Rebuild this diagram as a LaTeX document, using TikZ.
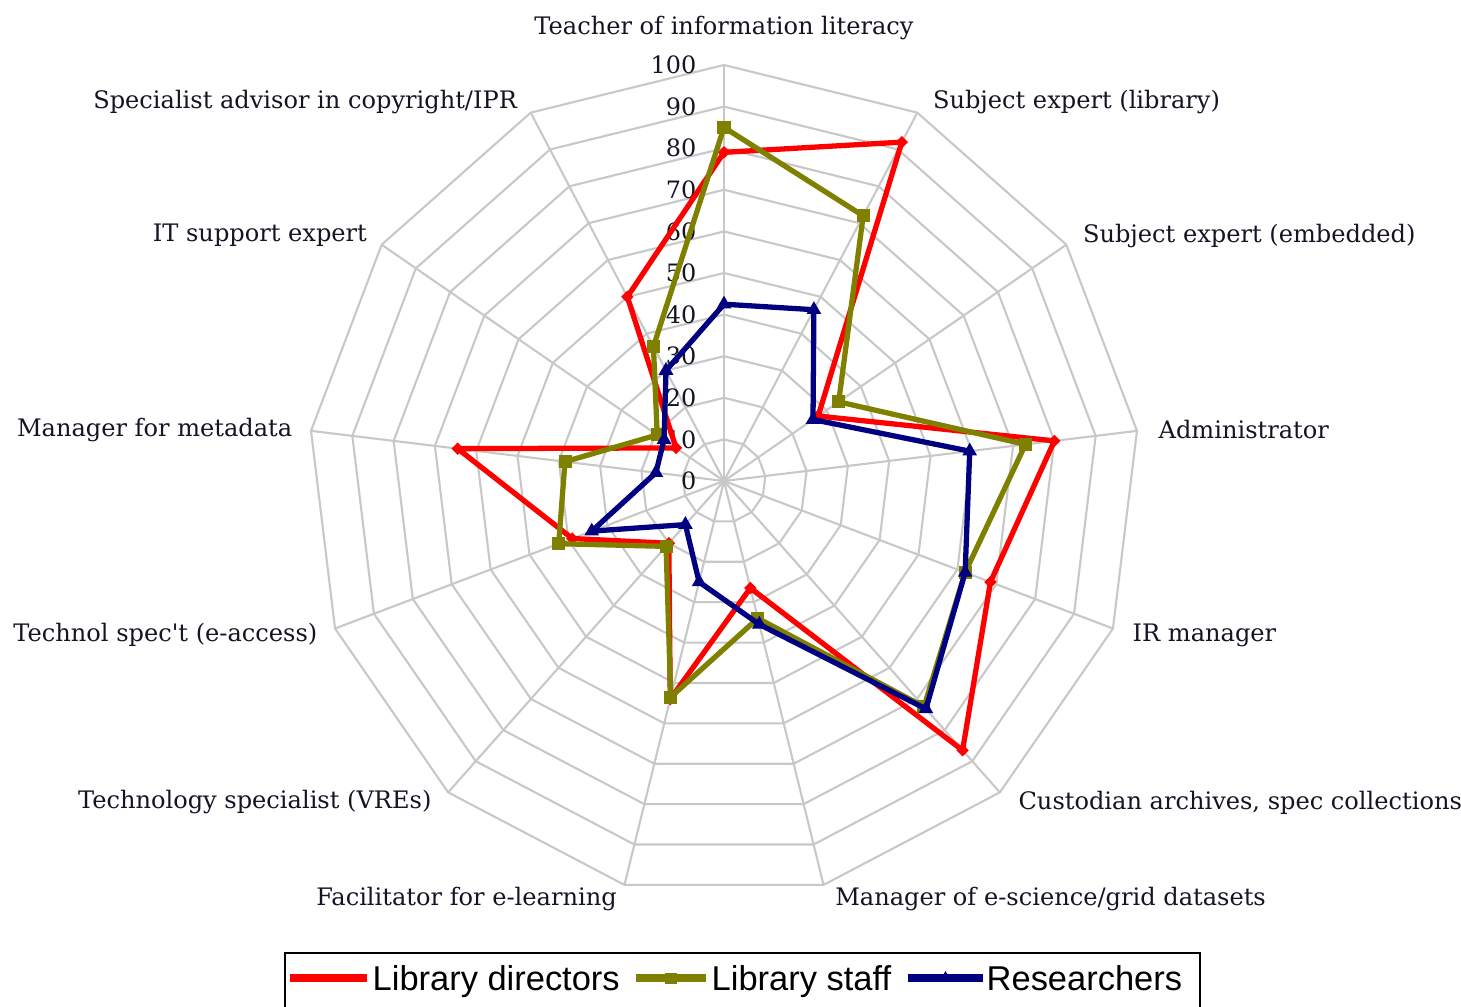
\documentclass[tikz,border=0pt]{standalone}
\usepackage{fontspec}
\setmainfont{DejaVu Serif}
\newfontfamily\legendfont{Liberation Sans}
\usepackage{tikz}
\usetikzlibrary{positioning,shapes.geometric}

\definecolor{dirred}{RGB}{255,0,0}
\definecolor{staffolive}{RGB}{128,128,0}
\definecolor{resnavy}{RGB}{0,0,128}
\definecolor{webgray}{RGB}{200,200,200}
\definecolor{labelink}{RGB}{20,20,35}

\newcommand{\radarpt}[3]{\coordinate (#1) at ({90-(#2)*360/13}:{4.16*(#3)});}

\tikzset{
  web/.style={webgray,line width=0.6pt},
  axislabel/.style={font=\fontsize{6.85}{8.5}\selectfont,text=labelink,inner sep=0pt},
  scalelabel/.style={font=\fontsize{6.8}{8}\selectfont,text=labelink,inner sep=0pt,anchor=east},
  dirline/.style={dirred,line width=1.5pt,line join=round},
  staffline/.style={staffolive,line width=1.5pt,line join=round},
  resline/.style={resnavy,line width=1.5pt,line join=round},
  dirmark/.style={diamond,fill=dirred,inner sep=0pt,minimum size=0.13cm},
  staffmark/.style={rectangle,fill=staffolive,inner sep=0pt,minimum size=0.13cm},
  resmark/.style={regular polygon,regular polygon sides=3,fill=resnavy,inner sep=0pt,minimum size=0.17cm},
  legline/.style={line width=2pt},
  legmark/.style={minimum size=0.11cm},
  legtext/.style={font=\legendfont\fontsize{9.8}{11}\selectfont,text=black,inner sep=0pt,anchor=base west}
}

\begin{document}
\begin{tikzpicture}[x=0.01cm,y=0.01cm]
  \useasboundingbox (-724,-525) rectangle (737,481);
  \coordinate (ctr) at (0,0);

  \foreach \k in {0,...,12}
    \coordinate (rim\k) at ({90-\k*360/13}:416);
  \foreach \k in {0,...,12}
    \draw[web] (ctr) -- (rim\k);
  \foreach \v in {1,...,10}
    \draw[web] (90:{41.6*\v}) \foreach \k in {1,...,12} { -- ({90-\k*360/13}:{41.6*\v}) } -- cycle;

  \foreach \v in {0,10,...,100}
    \node[scalelabel] (sc\v) at (-27,{4.16*\v}) {\v};

  \node[axislabel, above=0.24cm of rim0] (lab0) {Teacher of information literacy};
  \node[axislabel, right=0.15cm of rim1, yshift=0.11cm] (lab1) {Subject expert (library)};
  \node[axislabel, right=0.16cm of rim2, yshift=0.09cm] (lab2) {Subject expert (embedded)};
  \node[axislabel, right=0.21cm of rim3, yshift=0.01cm] (lab3) {Administrator};
  \node[axislabel, right=0.19cm of rim4, yshift=-0.065cm] (lab4) {IR manager};
  \node[axislabel, right=0.18cm of rim5, yshift=-0.10cm] (lab5) {Custodian archives, spec collections};
  \node[axislabel, right=0.11cm of rim6, yshift=-0.14cm] (lab6) {Manager of e-science/grid datasets};
  \node[axislabel, left=0.07cm of rim7, yshift=-0.14cm] (lab7) {Facilitator for e-learning};
  \node[axislabel, left=0.16cm of rim8, yshift=-0.10cm] (lab8) {Technology specialist (VREs)};
  \node[axislabel, left=0.17cm of rim9, yshift=-0.065cm] (lab9) {Technol spec\textquotesingle t (e-access)};
  \node[axislabel, left=0.18cm of rim10, yshift=0.01cm] (lab10) {Manager for metadata};
  \node[axislabel, left=0.14cm of rim11, yshift=0.09cm] (lab11) {IT support expert};
  \node[axislabel, left=0.13cm of rim12, yshift=0.11cm] (lab12) {Specialist advisor in copyright/IPR};

  % library directors
  \radarpt{r0}{0}{79}   \radarpt{r1}{1}{92}    \radarpt{r2}{2}{27.5}
  \radarpt{r3}{3}{80}   \radarpt{r4}{4}{68.5}  \radarpt{r5}{5}{86.5}
  \radarpt{r6}{6}{26.5} \radarpt{r7}{7}{54}    \radarpt{r8}{8}{20}
  \radarpt{r9}{9}{39}   \radarpt{r10}{10}{64.5} \radarpt{r11}{11}{14}
  \radarpt{r12}{12}{50}
  \draw[dirline] (r0) -- (r1) -- (r2) -- (r3) -- (r4) -- (r5) -- (r6) -- (r7)
    -- (r8) -- (r9) -- (r10) -- (r11) -- (r12) -- cycle;
  \foreach \k in {0,...,12}
    \node[dirmark] (rm\k) at (r\k) {};

  % library staff
  \radarpt{g0}{0}{85}   \radarpt{g1}{1}{72}    \radarpt{g2}{2}{33.5}
  \radarpt{g3}{3}{73}   \radarpt{g4}{4}{62}    \radarpt{g5}{5}{72.5}
  \radarpt{g6}{6}{34}   \radarpt{g7}{7}{53.5}  \radarpt{g8}{8}{21}
  \radarpt{g9}{9}{42.5} \radarpt{g10}{10}{38.5} \radarpt{g11}{11}{19.5}
  \radarpt{g12}{12}{36.5}
  \draw[staffline] (g0) -- (g1) -- (g2) -- (g3) -- (g4) -- (g5) -- (g6) -- (g7)
    -- (g8) -- (g9) -- (g10) -- (g11) -- (g12) -- cycle;
  \foreach \k in {0,...,12}
    \node[staffmark] (gm\k) at (g\k) {};

  % researchers
  \radarpt{b0}{0}{42.5} \radarpt{b1}{1}{46.5}  \radarpt{b2}{2}{26}
  \radarpt{b3}{3}{59.5} \radarpt{b4}{4}{62}    \radarpt{b5}{5}{73.2}
  \radarpt{b6}{6}{35.5} \radarpt{b7}{7}{25}    \radarpt{b8}{8}{14}
  \radarpt{b9}{9}{34}   \radarpt{b10}{10}{16.5} \radarpt{b11}{11}{17.5}
  \radarpt{b12}{12}{30}
  \draw[resline] (b0) -- (b1) -- (b2) -- (b3) -- (b4) -- (b5) -- (b6) -- (b7)
    -- (b8) -- (b9) -- (b10) -- (b11) -- (b12) -- cycle;
  \foreach \k in {0,...,12}
    \node[resmark] (bm\k) at (b\k) {};

  % legend
  \coordinate (legnw) at (-439,-472);
  \coordinate (legse) at (476,-545);
  \draw[black,line width=0.8pt] (legnw) rectangle (legse);

  \coordinate (ld1) at (-434,-497);
  \coordinate (ld2) at (-357,-497);
  \draw[dirline,legline] (ld1) -- node[dirmark,legmark] (ldm) {} (ld2);
  \node[legtext] (ldt) at ([xshift=0.05cm,yshift=-0.12cm]ld2) {Library directors};

  \coordinate (ls1) at (-88,-497);
  \coordinate (ls2) at (-18,-497);
  \draw[staffline,legline] (ls1) -- node[staffmark,legmark] (lsm) {} (ls2);
  \node[legtext] (lst) at ([xshift=0.05cm,yshift=-0.12cm]ls2) {Library staff};

  \coordinate (lr1) at (184,-497);
  \coordinate (lr2) at (259,-497);
  \draw[resline,legline] (lr1) -- node[resmark,legmark,minimum size=0.14cm] (lrm) {} (lr2);
  \node[legtext] (lrt) at ([xshift=0.03cm,yshift=-0.12cm]lr2) {Researchers};
\end{tikzpicture}
\end{document}
